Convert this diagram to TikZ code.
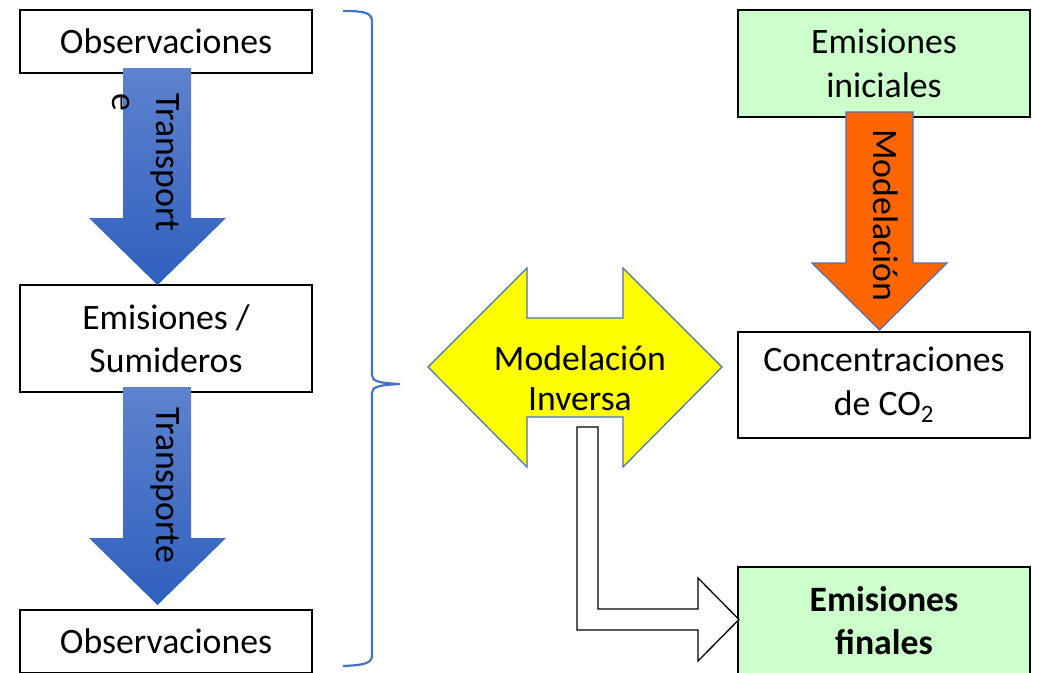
\documentclass[tikz,border=0pt]{standalone}
\usepackage{fontspec}
\setmainfont{Carlito}
\definecolor{bluetop}{RGB}{94,130,206}
\definecolor{bluebot}{RGB}{47,96,190}
\definecolor{edgeblue}{RGB}{68,114,196}
\definecolor{lgreen}{RGB}{204,255,204}
\definecolor{orng}{RGB}{255,102,0}
\definecolor{yllw}{RGB}{255,255,0}
\begin{document}
\begin{tikzpicture}[x=1pt,y=-1pt,
  box/.style={draw=black, line width=1.3pt, minimum width=292pt, inner sep=0pt,
    align=center, font=\fontsize{35.7}{43.5}\selectfont},
  vlabel/.style={rotate=-90, anchor=base west, inner sep=0pt, font=\fontsize{35.7}{43}\selectfont},
  blockarrow/.style={draw=edgeblue, line width=1.2pt, line join=miter},
  brace/.style={draw=edgeblue, line width=2.2pt}]
\useasboundingbox (0,0) rectangle (1038,672);

% left column boxes
\node[box, minimum height=63pt] (obsA) at (166,41.5) {Observaciones};
\node[box, minimum height=107pt] (emis) at (166,338.5) {Emisiones /\\Sumideros};
\node[box, minimum height=63pt] (obsB) at (166,641.5) {Observaciones};

% right column boxes
\node[box, fill=lgreen, minimum height=107pt] (eini) at (884,63.5) {Emisiones\\iniciales};
\node[box, minimum height=106pt] (conc) at (884,385) {Concentraciones\\de CO\textsubscript{2}};
\node[box, fill=lgreen, minimum height=107pt, font=\fontsize{35.7}{43}\selectfont\bfseries] (efin) at (884,620.5) {Emisiones\\finales};

% blue transport arrows
\shade[top color=bluetop, bottom color=bluebot]
  (123,68) -- (191,68) -- (191,218) -- (226,218) -- (157.5,285) -- (89,218) -- (123,218) -- cycle;
\shade[top color=bluetop, bottom color=bluebot]
  (123,387) -- (191,387) -- (191,538) -- (226,538) -- (157.5,605) -- (89,538) -- (123,538) -- cycle;
\node[vlabel] (t1) at (156,93) {Transport};
\node[vlabel] (t1e) at (112,93) {e};
\node[vlabel] (t2) at (156,407) {Transporte};

% orange modelling arrow
\path[blockarrow, fill=orng]
  (846,112) -- (913,112) -- (913,263) -- (947,263) -- (879.5,330) -- (812,263) -- (846,263) -- cycle;
\node[vlabel] (mod) at (873,129) {Modelación};

% brace
\draw[brace] (343,11) .. controls (366,11) and (372,13) .. (372,22)
  -- (372,375) .. controls (372,381) and (378,383) .. (400,384)
  .. controls (378,385) and (372,387) .. (372,393)
  -- (372,655) .. controls (372,663) and (366,665) .. (343,666);

% yellow double arrow
\path[blockarrow, fill=yllw]
  (428,367) -- (527,268) -- (527,318) -- (623,318) -- (623,268) -- (722,367)
  -- (623,467) -- (623,417) -- (527,417) -- (527,467) -- cycle;
\node[align=center, inner sep=0pt, font=\fontsize{35.7}{40}\selectfont] (inv) at (580,378) {Modelación\\Inversa};

% bent white arrow
\path[draw=black, fill=white, line width=1.3pt, line join=miter]
  (577,427) -- (598,427) -- (598,609) -- (698,609) -- (698,578) -- (739,619.5)
  -- (698,661) -- (698,630) -- (577,630) -- cycle;
\end{tikzpicture}
\end{document}
